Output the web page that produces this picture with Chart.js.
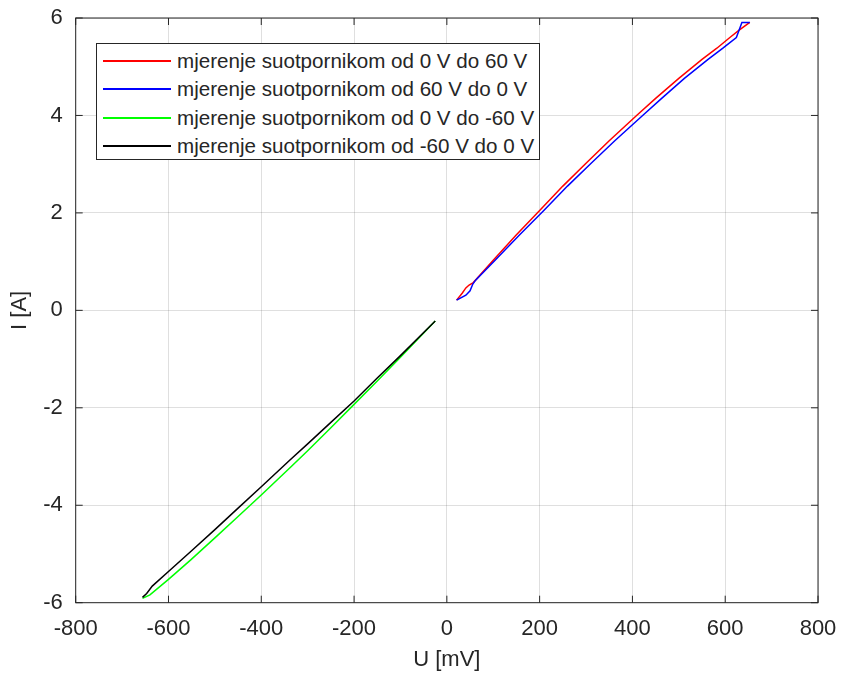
<!DOCTYPE html>
<html>
<head>
<meta charset="utf-8">
<script src="https://cdn.jsdelivr.net/npm/chart.js@4.4.0/dist/chart.umd.min.js"></script>
<style>
  html, body { margin: 0; padding: 0; background: #fff; }
  .wrap { position: relative; width: 841px; height: 675px; }
  .legenda {
    position: absolute; left: 96px; top: 43px; width: 444px; height: 117px;
    border: 1px solid #262626; background: #fff; box-sizing: border-box;
    padding-top: 2px;
    font-family: "Liberation Sans", Arial, sans-serif; font-size: 20.6px; color: #262626;
  }
  .red { height: 29px; display: flex; align-items: center; white-space: nowrap; }
  .red:nth-child(2), .red:nth-child(4) { height: 28px; }
  .crta { display: inline-block; width: 68px; margin-left: 6px; margin-right: 6px; height: 2px; }
</style>
</head>
<body>
<div class="wrap">
  <canvas id="graf" width="841" height="675"></canvas>
  <div class="legenda" id="legenda"></div>
</div>
<script>
"use strict";

// mjerenje 0 V -> 60 V
const crvenaU = [21, 33, 41, 48, 57, 100, 150, 200, 250, 300, 350, 409, 450, 500, 550, 582, 610, 630, 653];
const crvenaI = [0.21, 0.35, 0.46, 0.52, 0.57, 1.03, 1.55, 2.05, 2.55, 3.02, 3.48, 4.0, 4.35, 4.76, 5.15, 5.38, 5.6, 5.75, 5.91];
// mjerenje 60 V -> 0 V
const plavaU = [653, 636, 624, 595, 563, 512, 463, 422, 362, 311, 260, 209, 157, 104, 62, 56, 50, 41, 21];
const plavaI = [5.91, 5.91, 5.6, 5.38, 5.15, 4.76, 4.35, 4.0, 3.48, 3.02, 2.55, 2.05, 1.55, 1.03, 0.62, 0.54, 0.4, 0.31, 0.21];
// mjerenje 0 V -> -60 V
const zelenaU = [-25, -100, -150, -200, -250, -300, -337, -400, -450, -500, -552, -600, -640, -656];
const zelenaI = [-0.22, -0.96, -1.45, -1.93, -2.41, -2.88, -3.22, -3.79, -4.23, -4.67, -5.12, -5.52, -5.84, -5.91];
// mjerenje -60 V -> 0 V
const crnaU = [-656, -647, -635, -600, -552, -500, -450, -400, -337, -300, -250, -200, -150, -100, -25];
const crnaI = [-5.89, -5.81, -5.66, -5.36, -4.95, -4.5, -4.06, -3.62, -3.06, -2.74, -2.3, -1.86, -1.39, -0.93, -0.22];

const xTicks = [-800, -600, -400, -200, 0, 200, 400, 600, 800];
const yTicks = [-6, -4, -2, 0, 2, 4, 6];

const labele = [
  "mjerenje suotpornikom od 0 V do 60 V",
  "mjerenje suotpornikom od 60 V do 0 V",
  "mjerenje suotpornikom od 0 V do -60 V",
  "mjerenje suotpornikom od -60 V do 0 V",
];
const boje = ["#ff0000", "#0000ff", "#00ff00", "#000000"];

const tekst = "#262626";
const font = { family: "'Liberation Sans', Arial, sans-serif", size: 22 };

function tocke(u, i) {
  return u.map((v, k) => ({ x: v, y: i[k] }));
}

// okvir i unutarnje crtice kao u MATLAB-u
const okvir = {
  id: "okvir",
  afterDraw(chart) {
    const { ctx, chartArea: a, scales } = chart;
    const duz = 7;
    ctx.save();
    ctx.strokeStyle = tekst;
    ctx.lineWidth = 1;
    ctx.strokeRect(a.left, a.top, a.right - a.left, a.bottom - a.top);
    ctx.beginPath();
    xTicks.forEach((t) => {
      const px = scales.x.getPixelForValue(t);
      ctx.moveTo(px, a.bottom); ctx.lineTo(px, a.bottom - duz);
      ctx.moveTo(px, a.top); ctx.lineTo(px, a.top + duz);
    });
    yTicks.forEach((t) => {
      const py = scales.y.getPixelForValue(t);
      ctx.moveTo(a.left, py); ctx.lineTo(a.left + duz, py);
      ctx.moveTo(a.right, py); ctx.lineTo(a.right - duz, py);
    });
    ctx.stroke();
    ctx.restore();
  },
};

const nizovi = [
  tocke(crvenaU, crvenaI),
  tocke(plavaU, plavaI),
  tocke(zelenaU, zelenaI),
  tocke(crnaU, crnaI),
];

const data = {
  datasets: nizovi.map((d, k) => ({
    label: labele[k],
    data: d,
    borderColor: boje[k],
    backgroundColor: boje[k],
    borderWidth: 1.5,
    pointRadius: 0,
    showLine: true,
    tension: 0,
    order: [2, 1, 4, 3][k],
  })),
};

const config = {
  type: "scatter",
  data: data,
  options: {
    responsive: false,
    animation: false,
    layout: { padding: 0 },
    plugins: {
      legend: { display: false },
      tooltip: { enabled: false },
    },
    scales: {
      x: {
        type: "linear",
        min: -800,
        max: 800,
        afterBuildTicks: (s) => { s.ticks = xTicks.map((v) => ({ value: v })); },
        afterFit: (s) => {
          s.height = 72.3;
          s.paddingLeft = 0;
          s.paddingRight = 23;
        },
        grid: { color: "rgba(38,38,38,0.15)", drawTicks: false },
        border: { display: false },
        ticks: { color: tekst, font: font, padding: 13, maxRotation: 0 },
        title: { display: true, text: "U [mV]", color: tekst, font: font, padding: { top: 0, bottom: 2 } },
      },
      y: {
        type: "linear",
        min: -6,
        max: 6,
        afterBuildTicks: (s) => { s.ticks = yTicks.map((v) => ({ value: v })); },
        afterFit: (s) => {
          s.width = 75.7;
          s.paddingTop = 18;
          s.paddingBottom = 0;
        },
        grid: { color: "rgba(38,38,38,0.15)", drawTicks: false },
        border: { display: false },
        ticks: { color: tekst, font: font, padding: 13 },
        title: { display: true, text: "I [A]", color: tekst, font: font, padding: { top: 7, bottom: 0 } },
      },
    },
  },
  plugins: [okvir],
};

const ctx = document.getElementById("graf").getContext("2d");
const grafikon = new Chart(ctx, config);

// legenda kao pravi tekst
const legenda = document.getElementById("legenda");
labele.forEach((l, k) => {
  legenda.insertAdjacentHTML(
    "beforeend",
    `<div class="red"><span class="crta" style="background:${boje[k]}"></span><span>${l}</span></div>`
  );
});
</script>
</body>
</html>
